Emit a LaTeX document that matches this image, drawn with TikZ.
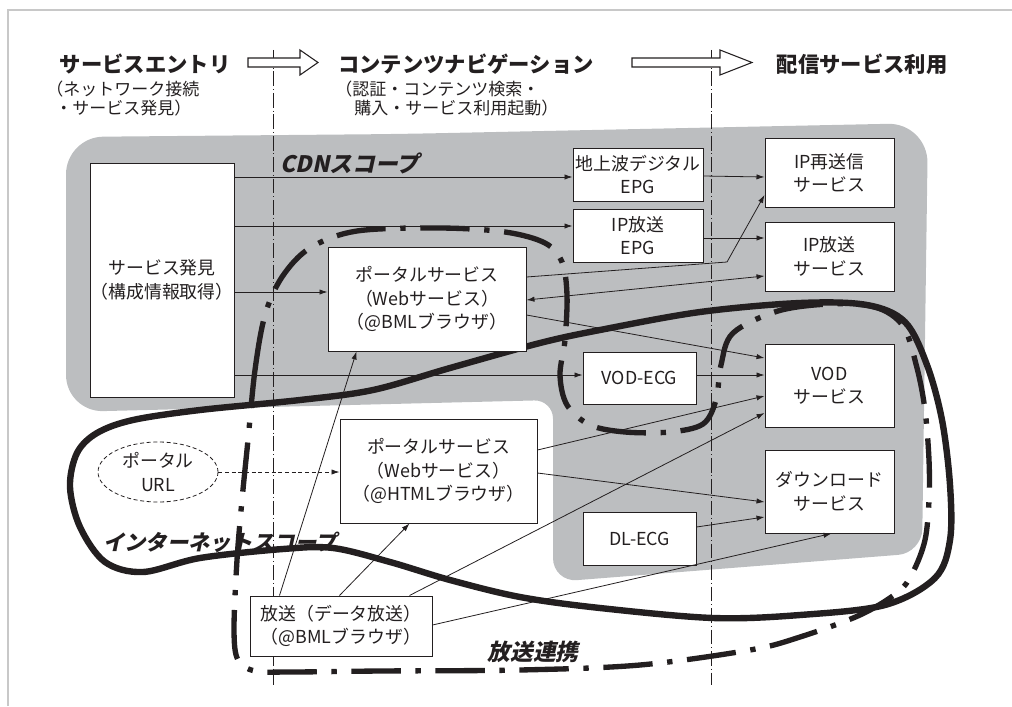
\documentclass[tikz,border=0pt]{standalone}
\usepackage{fontspec}
\setmainfont{Noto Sans CJK JP}
\newfontfamily\jpslant{Noto Sans CJK JP}[FakeSlant=0.22]
\usetikzlibrary{arrows.meta,shapes.geometric,calc}
\definecolor{cdngray}{RGB}{188,190,192}
\definecolor{ink}{RGB}{35,31,32}
\definecolor{framegray}{RGB}{200,200,200}
\pgfdeclarelayer{bg}
\pgfdeclarelayer{mid}
\pgfsetlayers{bg,mid,main}
\begin{document}
\begin{tikzpicture}[x=0.75pt,y=-0.75pt,
  box/.style={draw=ink, line width=0.75pt, fill=white, inner sep=0pt, align=center,
    font=\fontsize{13.4}{17.6}\selectfont, text=ink},
  conn/.style={draw=ink, line width=0.6pt, -{Latex[length=6pt,width=4pt]}},
  dconn/.style={draw=ink, line width=0.6pt, {Latex[length=6pt,width=4pt]}-{Latex[length=6pt,width=4pt]}},
  hdr/.style={inner sep=0pt, text=ink, font=\fontsize{16}{19}\selectfont\bfseries},
  sub/.style={inner sep=0pt, anchor=west, text=ink, font=\fontsize{12.75}{15}\selectfont},
  lbl/.style={inner sep=0pt, text=ink, font=\jpslant\fontsize{16}{19}\selectfont\bfseries},
  biglbl/.style={inner sep=0pt, text=ink, font=\jpslant\fontsize{17}{20}\selectfont\bfseries},
  hollow/.style={draw=ink, line width=0.8pt, fill=white},
  vline/.style={draw=ink, line width=0.5pt, dash pattern=on 11pt off 2.2pt on 0.7pt off 2.2pt},
  dashloop/.style={draw=ink, line width=4pt, dash pattern=on 37pt off 11pt on 4pt off 11pt},
  solidloop/.style={draw=ink, line width=4.8pt}]
\useasboundingbox (0,0) rectangle (1012,706);

% frame
\draw[framegray, line width=1pt] (8,706) -- (8,10) -- (1012,10);

\begin{pgfonlayer}{bg}
  \fill[cdngray] (400,134) [rounded corners=30pt] -- (928,123) [rounded corners=18pt] -- (922,553)
     -- (553,582) [rounded corners=14pt] -- (553,400) [rounded corners=28pt] -- (66,412) -- (66,137) -- cycle;
  \draw[vline] (273,50) -- (273,685);
  \draw[vline] (711,50) -- (711,685);
\end{pgfonlayer}

\begin{pgfonlayer}{mid}
  \draw[dashloop] plot[smooth cycle, tension=0.55] coordinates {
    (248,440) (255,370) (265,315) (282,277) (310,248) (357,231) (440,228) (505,232)
    (545,243) (562,262) (567,295) (565,340) (560,375) (567,405) (590,425) (625,432)
    (670,432) (703,424) (716,400) (721,365) (733,333) (778,311) (830,304) (875,307)
    (903,326) (917,368) (925,410) (929,460) (929,500) (925,540) (913,572) (898,592)
    (860,615) (800,637) (750,650) (640,665) (520,670) (380,671) (290,672) (255,671)
    (238,660) (234,630) (237,560) (242,500)};
  \draw[solidloop] plot[smooth cycle, tension=0.55] coordinates {
    (373,390) (450,368) (540,343) (600,330) (700,312) (800,303) (867,305) (905,322)
    (927,365) (942,420) (950,485) (950,540) (935,578) (885,605) (800,615) (713,618)
    (600,608) (520,597) (450,580) (390,562) (333,548) (283,549) (200,558) (143,572)
    (105,562) (80,527) (70,487) (77,453) (97,433) (133,420) (200,410) (300,400)};
\end{pgfonlayer}

% header
\node[hdr] (h1) at (145,64) {サービスエントリ};
\node[hdr] (h2) at (466,64) {コンテンツナビゲーション};
\node[hdr] (h3) at (862,64) {配信サービス利用};
\node[sub] (s1a) at (46,89) {（ネットワーク接続};
\node[sub] (s1b) at (55,108) {・サービス発見）};
\node[sub] (s2a) at (335,89) {（認証・コンテンツ検索・};
\node[sub] (s2b) at (354,108) {購入・サービス利用起動）};
\draw[hollow] (248,58) -- (300,58) -- (300,50) -- (318,62.5) -- (300,75) -- (300,67) -- (248,67) -- cycle;
\draw[hollow] (632,58) -- (720,58) -- (720,50) -- (752,62.5) -- (720,75) -- (720,67) -- (632,67) -- cycle;

% boxes
\node[box, minimum width=108pt, minimum height=175.5pt] (disc) at (162,280) {サービス発見\\（構成情報取得）};
\node[box, minimum width=97.5pt, minimum height=39.75pt] (tdig) at (638,174.5) {地上波デジタル\\EPG};
\node[box, minimum width=97.5pt, minimum height=39.75pt] (ipepg) at (638,235.5) {IP放送\\EPG};
\node[box, minimum width=148.5pt, minimum height=78pt] (bml) at (427,299) {ポータルサービス\\（Webサービス）\\（@BMLブラウザ）};
\node[box, minimum width=84.75pt, minimum height=39pt] (vodecg) at (639.5,378) {VOD-ECG};
\node[box, minimum width=84.75pt, minimum height=39.75pt] (dlecg) at (639.5,538.5) {DL-ECG};
\node[box, minimum width=147.75pt, minimum height=78pt] (html) at (438.5,471) {ポータルサービス\\（Webサービス）\\（@HTMLブラウザ）};
\node[box, minimum width=136.5pt, minimum height=45pt] (bcast) at (341,626) {放送（データ放送）\\（@BMLブラウザ）};
\node[box, minimum width=96.75pt, minimum height=51pt] (iprs) at (829.5,173) {IP再送信\\サービス};
\node[box, minimum width=96.75pt, minimum height=51.75pt] (ipb) at (829.5,256.5) {IP放送\\サービス};
\node[box, minimum width=96.75pt, minimum height=62.25pt] (vod) at (829.5,385.5) {VOD\\サービス};
\node[box, minimum width=96.75pt, minimum height=62.25pt] (dl) at (829.5,491.5) {ダウンロード\\サービス};
\node[ellipse, draw=ink, line width=0.6pt, dash pattern=on 3pt off 2pt, fill=white, minimum width=90pt,
  minimum height=45pt, inner sep=0pt, align=center, text=ink,
  font=\fontsize{13.4}{17.6}\selectfont] (url) at (158,472) {ポータル\\URL};

% connectors
\draw[conn] (disc.east |- 0,177) -- (tdig.west |- 0,177);
\draw[conn] (disc.east |- 0,226) -- (ipepg.west |- 0,226);
\draw[conn] (disc.east |- 0,292) -- (bml.west |- 0,292);
\draw[conn] (disc.east |- 0,375) -- (vodecg.west |- 0,375);
\draw[conn] (tdig.east |- 0,176) -- (iprs.west |- 0,177);
\draw[conn] (ipepg.east |- 0,238) -- (ipb.west |- 0,238);
\coordinate (bend) at (727,262);
\draw[conn] (bml.east |- 0,277) -- (bend) -- (iprs.west |- 0,195);
\draw[dconn] (bml.east |- 0,300) -- (ipb.west |- 0,276);
\draw[conn] (bml.east |- 0,315) -- (vod.west |- 0,358);
\draw[conn] (vodecg.east |- 0,375) -- (vod.west |- 0,375);
\draw[conn] (html.east |- 0,450) -- (vod.west |- 0,396);
\draw[conn] (html.east |- 0,473) -- (dl.west |- 0,502);
\draw[conn] (dlecg.east |- 0,527) -- (dl.west |- 0,517);
\draw[conn, dash pattern=on 3pt off 2pt] (url.east) -- (html.west |- url.east);
\draw[conn] ($(bcast.north west)+(30,0)$) -- ($(bml.south west)+(29,0)$);
\draw[conn] ($(bcast.north west)+(90,0)$) -- ($(html.south west)+(70,0)$);
\draw[conn] ($(bcast.north west)+(160,0)$) -- (vod.west |- 0,413);
\draw[conn] (bcast.east |- 0,625) -- ($(dl.south west)+(67,0)$);

% scope labels
\node[biglbl] (cdnlbl) at (350,163) {CDNスコープ};
\node[lbl] (netlbl) at (220,542) {インターネットスコープ};
\node[biglbl] (bclbl) at (533,652) {放送連携};
\end{tikzpicture}
\end{document}
